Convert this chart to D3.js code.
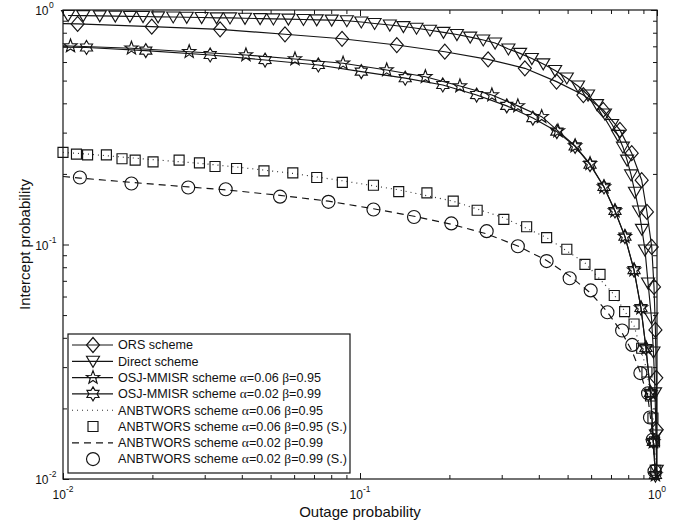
<!DOCTYPE html>
<meta charset="utf-8">
<script src="https://cdn.jsdelivr.net/npm/d3@7"></script>
<style>
  body { margin: 0; background: #fff; }
  text { font-family: "Liberation Sans", Arial, sans-serif; fill: #111; }
  .greek { font-family: "Liberation Serif", "Times New Roman", serif; font-size: 13.5px; }
</style>
<div id="dataviz"></div>
<script>
// values, [outage, intercept]
var orsData = [[0.0062,0.89],[0.0112,0.872],[0.0199,0.849],[0.0338,0.827],[0.0559,0.788],[0.087,0.754],[0.133,0.709],[0.193,0.664],[0.270,0.616],[0.359,0.564],[0.459,0.495],[0.565,0.434],[0.659,0.375],[0.750,0.308],[0.822,0.245],[0.888,0.188],[0.925,0.1376],[0.960,0.0976],[0.977,0.0659],[0.988,0.0432],[0.9945,0.027],[0.998,0.0162],[0.9995,0.0095]];

var directData = [[0.0104,0.947],[0.0117,0.946],[0.0133,0.944],[0.0150,0.942],[0.0168,0.940],[0.0186,0.938],[0.0209,0.935],[0.0235,0.934],[0.0261,0.931],[0.0293,0.929],[0.0329,0.926],[0.0365,0.925],[0.0410,0.922],[0.0461,0.919],[0.0511,0.916],[0.0574,0.914],[0.0645,0.911],[0.0715,0.908],[0.0803,0.905],[0.0903,0.900],[0.101,0.889],[0.112,0.876],[0.126,0.863],[0.140,0.850],[0.155,0.836],[0.172,0.820],[0.191,0.803],[0.212,0.786],[0.235,0.766],[0.260,0.745],[0.285,0.723],[0.316,0.682],[0.346,0.653],[0.379,0.621],[0.414,0.589],[0.454,0.552],[0.497,0.513],[0.542,0.474],[0.586,0.434],[0.628,0.395],[0.668,0.360],[0.706,0.325],[0.739,0.292],[0.768,0.260],[0.793,0.229],[0.818,0.198],[0.843,0.167],[0.870,0.139],[0.890,0.116],[0.911,0.0947],[0.933,0.0685],[0.958,0.0486],[0.973,0.0348],[0.985,0.0233],[0.992,0.0154],[0.998,0.0109]];

var osj06Data = [[0.00664,0.709],[0.0106,0.702],[0.0170,0.687],[0.0266,0.664],[0.0413,0.643],[0.0604,0.618],[0.0877,0.593],[0.123,0.555],[0.166,0.519],[0.217,0.474],[0.278,0.434],[0.340,0.390],[0.409,0.351],[0.464,0.305],[0.530,0.263],[0.595,0.221],[0.663,0.176],[0.722,0.139],[0.780,0.108],[0.837,0.0778],[0.883,0.0536],[0.918,0.0362],[0.951,0.0233],[0.972,0.0144],[0.988,0.0104]];

var osj02Data = [[0.0075,0.699],[0.0120,0.692],[0.0190,0.671],[0.0313,0.643],[0.0479,0.612],[0.0724,0.583],[0.101,0.546],[0.142,0.512],[0.190,0.479],[0.247,0.434],[0.312,0.390],[0.382,0.346],[0.460,0.303],[0.530,0.262],[0.595,0.219],[0.663,0.176],[0.722,0.139],[0.780,0.108],[0.837,0.0778],[0.883,0.0536],[0.918,0.0362],[0.951,0.0233],[0.972,0.0144],[0.988,0.0104]];

var anb06Data = [[0.01,0.247],[0.0121,0.243],[0.0158,0.236],[0.0201,0.230],[0.0288,0.222],[0.0384,0.214],[0.0594,0.201],[0.0872,0.187],[0.135,0.171],[0.206,0.153],[0.305,0.130],[0.425,0.107],[0.572,0.0835],[0.718,0.0610],[0.837,0.0450],[0.925,0.0290],[0.969,0.0185],[0.991,0.0110],[0.997,0.0085]];

var anb06Sim = [[0.0100,0.247],[0.0111,0.243],[0.0121,0.241],[0.0140,0.241],[0.0158,0.232],[0.0175,0.229],[0.0201,0.225],[0.0246,0.229],[0.0288,0.223],[0.0325,0.215],[0.0384,0.211],[0.0475,0.206],[0.0594,0.202],[0.0715,0.193],[0.0872,0.184],[0.111,0.179],[0.135,0.168],[0.168,0.166],[0.206,0.153],[0.248,0.140],[0.305,0.128],[0.364,0.119],[0.425,0.107],[0.497,0.0954],[0.572,0.0823],[0.643,0.0746],[0.718,0.0606],[0.778,0.0517],[0.837,0.0458],[0.888,0.0361],[0.925,0.0286],[0.951,0.0226],[0.969,0.0182],[0.981,0.0144],[0.991,0.0109]];

var anb02Data = [[0.01,0.195],[0.0114,0.192],[0.0170,0.184],[0.0264,0.176],[0.0353,0.171],[0.0538,0.162],[0.0783,0.153],[0.111,0.142],[0.152,0.132],[0.203,0.122],[0.267,0.111],[0.340,0.0985],[0.425,0.0855],[0.508,0.0735],[0.598,0.0620],[0.681,0.0515],[0.763,0.0420],[0.825,0.0350],[0.879,0.0285],[0.933,0.0220],[0.967,0.0155],[0.985,0.0110],[0.995,0.0085]];

var anb02Sim = [[0.0114,0.193],[0.0170,0.182],[0.0264,0.175],[0.0353,0.172],[0.0538,0.160],[0.0783,0.152],[0.111,0.141],[0.152,0.131],[0.203,0.123],[0.267,0.114],[0.340,0.0983],[0.425,0.0850],[0.508,0.0718],[0.598,0.0637],[0.681,0.0514],[0.763,0.0430],[0.825,0.0373],[0.879,0.0283],[0.933,0.0232],[0.947,0.0183],[0.967,0.0147],[0.981,0.0108]];

var legendLabels = [
  "ORS scheme",
  "Direct scheme",
  "OSJ-MMISR scheme α=0.06 β=0.95",
  "OSJ-MMISR scheme α=0.02 β=0.99",
  "ANBTWORS scheme α=0.06 β=0.95",
  "ANBTWORS scheme α=0.06 β=0.95 (S.)",
  "ANBTWORS scheme α=0.02 β=0.99",
  "ANBTWORS scheme α=0.02 β=0.99 (S.)"
];

var decadeTicks = [0.01, 0.1, 1];
var decadeExp = ["-2", "-1", "0"];
var minorTicks = [0.02,0.03,0.04,0.05,0.06,0.07,0.08,0.09,0.2,0.3,0.4,0.5,0.6,0.7,0.8,0.9];

var xTitle = "Outage probability";
var yTitle = "Intercept probability";

/**
 * setup
 */
var margin = { top: 10, right: 25, bottom: 48, left: 63 };
var width = 682 - margin.left - margin.right;
var height = 527 - margin.top - margin.bottom;
var ink = "#141414";

var svg = d3.select("#dataviz").append("svg")
    .attr("width", 682)
    .attr("height", 527)
    .append("g")
    .attr("transform", "translate(" + margin.left + "," + margin.top + ")");

var x = d3.scaleLog().domain([0.01, 1]).range([0, width]);
var y = d3.scaleLog().domain([0.01, 1]).range([height, 0]);

svg.append("clipPath").attr("id", "plot-clip")
    .append("rect").attr("width", width).attr("height", height);

// marker shapes, centred on 0,0
function starPath(n, R, r) {
    var p = [];
    for (var i = 0; i < 2 * n; i++) {
        var a = -Math.PI / 2 + i * Math.PI / n;
        var rr = i % 2 ? r : R;
        p.push([rr * Math.cos(a), rr * Math.sin(a)]);
    }
    return "M" + p.map(d => d[0].toFixed(2) + "," + d[1].toFixed(2)).join("L") + "Z";
}
var shapes = {
    diamond: "M0,-7.5L6.5,0L0,7.5L-6.5,0Z",
    triangle: "M-6.5,-5L6.5,-5L0,6Z",
    pentagram: starPath(5, 7, 2.9),
    hexagram: starPath(6, 7, 4.1),
    square: "M-5,-5H5V5H-5Z",
    circle: d3.symbol(d3.symbolCircle, Math.PI * 6.5 * 6.5)()
};

var series = [
    { data: orsData, dash: null, marker: "diamond" },
    { data: directData, dash: null, marker: "triangle" },
    { data: osj06Data, dash: null, marker: "pentagram" },
    { data: osj02Data, dash: null, marker: "hexagram" },
    { data: anb06Data, dash: "1,4", marker: null },
    { data: anb06Sim, dash: "none", marker: "square" },
    { data: anb02Data, dash: "7,5", marker: null },
    { data: anb02Sim, dash: "none", marker: "circle" }
];

// axes: inward ticks on all four sides
function tickAxis(axis, scale, values, size) {
    return axis(scale).tickValues(values).tickSize(-size).tickSizeOuter(0).tickFormat("");
}
var axes = [
    [d3.axisBottom, x, "translate(0," + height + ")"],
    [d3.axisTop, x, "translate(0,0)"],
    [d3.axisLeft, y, "translate(0,0)"],
    [d3.axisRight, y, "translate(" + width + ",0)"]
];
axes.forEach(function(a) {
    [[decadeTicks, 6], [minorTicks, 4]].forEach(function(t) {
        var g = svg.append("g").attr("transform", a[2]).call(tickAxis(a[0], a[1], t[0], t[1]));
        g.select(".domain").remove();
        g.selectAll("line").attr("stroke", ink);
    });
});

svg.append("rect")
    .attr("width", width).attr("height", height)
    .attr("fill", "none").attr("stroke", ink).attr("stroke-width", 1.2);

// tick labels 10^k
var xl = svg.append("g").selectAll("text").data(decadeTicks).enter().append("text")
    .attr("x", d => x(d)).attr("y", height + 20)
    .attr("text-anchor", "middle").style("font-size", "12px");
xl.append("tspan").text("10");
xl.append("tspan").attr("dy", -7).style("font-size", "8.5px").text((d, i) => decadeExp[i]);

var yl = svg.append("g").selectAll("g").data(decadeTicks).enter().append("g");
yl.append("text").attr("x", -14.5).attr("y", d => y(d) + 5)
    .attr("text-anchor", "end").style("font-size", "12px").text("10");
yl.append("text").attr("x", -14).attr("y", d => y(d) - 2)
    .style("font-size", "8.5px").text((d, i) => decadeExp[i]);

// axis titles
svg.append("text").attr("x", width / 2).attr("y", height + 37.5)
    .attr("text-anchor", "middle").style("font-size", "15px").text(xTitle);
svg.append("text")
    .attr("transform", "translate(-33," + (height / 2) + ") rotate(-90)")
    .attr("text-anchor", "middle").style("font-size", "15px").text(yTitle);

// curves
var line = d3.line().x(d => x(d[0])).y(d => y(d[1]));
var plot = svg.append("g").attr("clip-path", "url(#plot-clip)");

series.forEach(function(s) {
    if (s.dash !== "none") {
        plot.append("path")
            .datum(s.data)
            .attr("d", line)
            .attr("fill", "none")
            .attr("stroke", s.dash === "1,4" ? "#333" : ink)
            .attr("stroke-width", 1.15)
            .attr("stroke-dasharray", s.dash);
    }
});
series.forEach(function(s) {
    if (!s.marker) return;
    svg.append("g").selectAll("path")
        .data(s.data.filter(d => d[0] >= 0.01 && d[0] <= 1 && d[1] >= 0.01 && d[1] <= 1))
        .enter().append("path")
        .attr("transform", d => "translate(" + x(d[0]) + "," + y(d[1]) + ")")
        .attr("d", shapes[s.marker])
        .attr("fill", "none")
        .attr("stroke", ink)
        .attr("stroke-width", 1.15);
});

// legend
var lg = svg.append("g").attr("transform", "translate(5,324)");
lg.append("rect").attr("width", 282).attr("height", 139)
    .attr("fill", "#fff").attr("stroke", ink).attr("stroke-width", 1.2);

series.forEach(function(s, i) {
    var cy = 11 + i * 16.3;
    if (s.dash !== "none") {
        lg.append("line").attr("x1", 4).attr("x2", 45).attr("y1", cy).attr("y2", cy)
            .attr("stroke", s.dash === "1,4" ? "#333" : ink).attr("stroke-width", 1.15)
            .attr("stroke-dasharray", s.dash);
    }
    if (s.marker) {
        lg.append("path").attr("transform", "translate(25," + cy + ")")
            .attr("d", shapes[s.marker]).attr("fill", "none").attr("stroke", ink).attr("stroke-width", 1.15);
    }
    var t = lg.append("text").attr("x", 50).attr("y", cy + 4.3).style("font-size", "12.6px");
    legendLabels[i].split(/([αβ])/).forEach(function(part) {
        if (!part) return;
        t.append("tspan").attr("class", /[αβ]/.test(part) ? "greek" : null).text(part);
    });
});
</script>
